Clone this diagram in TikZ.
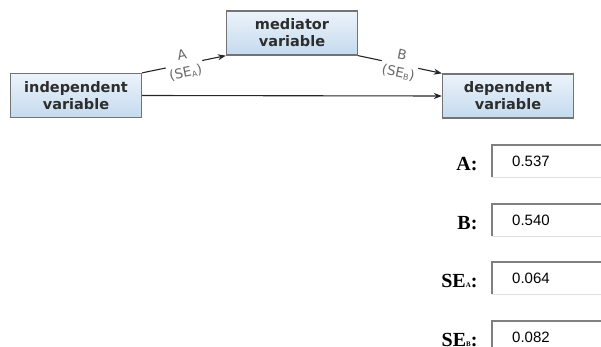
\documentclass[tikz,border=0pt]{standalone}
\usepackage{fontspec}
\setmainfont{Liberation Serif}
\newfontfamily\dvfont{DejaVu Sans}
\newfontfamily\arialfont{Liberation Sans}
\usetikzlibrary{arrows.meta}
\definecolor{boxtop}{RGB}{236,243,250}
\definecolor{boxbot}{RGB}{196,218,238}
\definecolor{boxedge}{RGB}{115,115,115}
\definecolor{txt}{RGB}{45,45,45}
\definecolor{lbl}{RGB}{105,105,105}
\definecolor{fedge}{RGB}{128,128,128}
\definecolor{flight}{RGB}{225,225,225}
\begin{document}
\begin{tikzpicture}[x=1pt,y=-1pt,
  varbox/.style={draw=boxedge, line width=1.3pt, top color=boxtop, bottom color=boxbot,
    minimum width=131pt, minimum height=44pt, align=center, inner sep=0pt,
    font=\dvfont\bfseries\fontsize{14.5}{17}\selectfont, text=txt},
  conn/.style={draw=black!85, line width=1.1pt, -{Stealth[length=8pt,width=6pt]}},
  pathlabel/.style={fill=white, sloped, align=center, inner xsep=2pt, inner ysep=0pt,
    font=\dvfont\fontsize{13.5}{18}\selectfont, text=lbl},
  field/.style={anchor=north west, minimum width=115pt, minimum height=32pt,
    inner xsep=20pt, inner ysep=0pt, text width=75pt, align=left,
    font=\arialfont\fontsize{15}{15}\selectfont},
  flabel/.style={anchor=base east, font=\bfseries\fontsize{20}{20}\selectfont},
]
\useasboundingbox (0,0) rectangle (601,347);

\node[varbox] (ind) at (76,95.5) {independent\\variable};
\node[varbox] (med) at (292,33) {mediator\\variable};
\node[varbox] (dep) at (508,96) {dependent\\variable};

\draw[conn] (ind.north east) -- node[pathlabel] (labA) {A\\(SE\raisebox{-1.5pt}{\fontsize{8}{8}\selectfont A})} (med.south west);
\draw[conn] (med.south east) -- node[pathlabel] (labB) {B\\(SE\raisebox{-1.5pt}{\fontsize{8}{8}\selectfont B})} (dep.north west);
\draw[conn] (ind.east) -- (dep.west);

\node[field] (fa) at (492,145) {0.537};
\node[field] (fb) at (492,204) {0.540};
\node[field] (fsa) at (492,262) {0.064};
\node[field] (fsb) at (492,321) {0.082};
\foreach \f in {fa,fb,fsa,fsb}{
  \draw[flight, line width=1pt] (\f.south west) -- (\f.south east);
  \draw[fedge, line width=1.8pt] (\f.south west) -- (\f.north west) -- (\f.north east);
}

\node[flabel] (la) at (481,170.5) {A:};
\node[flabel] (lb) at (481,229.5) {B:};
\node[flabel] (lsa) at (481,287.5) {SE{\fontsize{7}{7}\selectfont A}:};
\node[flabel] (lsb) at (481,346.5) {SE{\fontsize{7}{7}\selectfont B}:};
\end{tikzpicture}
\end{document}
